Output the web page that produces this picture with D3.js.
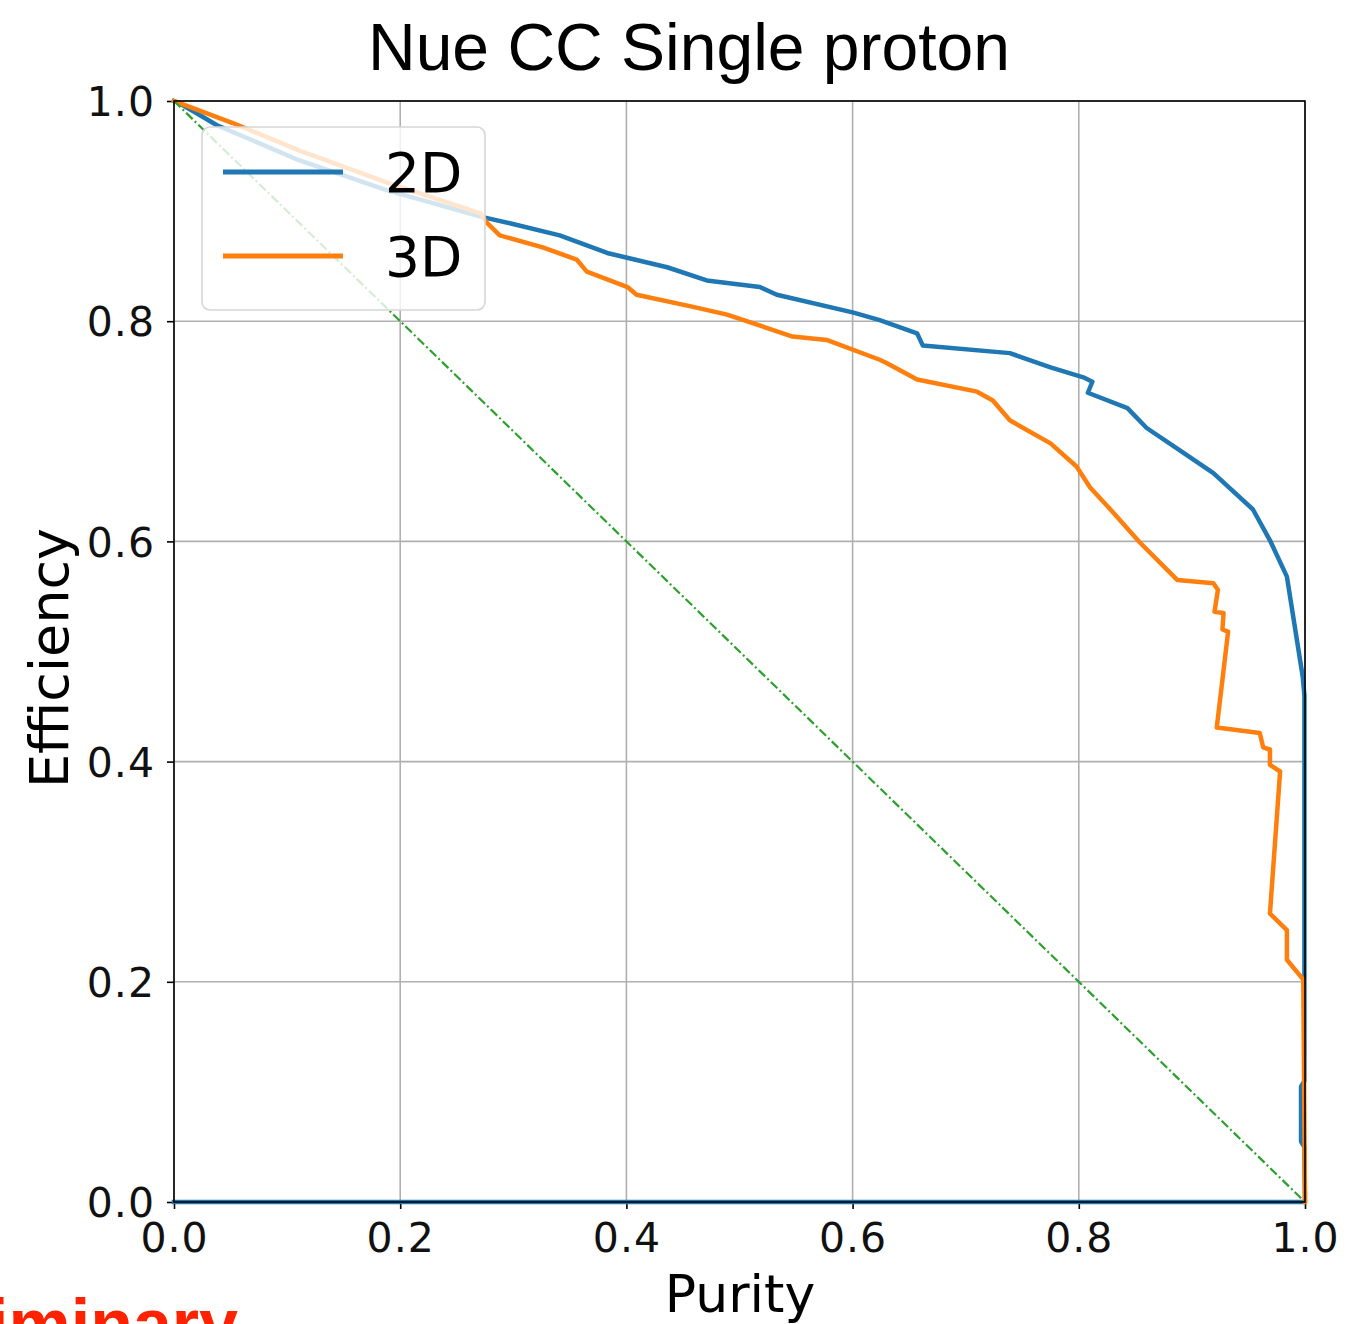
<!DOCTYPE html>
<html>
<head>
<meta charset="utf-8">
<script src="https://cdn.jsdelivr.net/npm/d3@7"></script>
<style>
  html, body { margin: 0; padding: 0; background: #fff; }
  svg { display: block; }
</style>
</head>
<body>
<svg id="chart" width="1347" height="1324"></svg>
<script>
// ---- data ----
const title = "Nue CC Single proton";
const xLabel = "Purity";
const yLabel = "Efficiency";
const seriesNames = ["2D", "3D"];
const seriesColors = ["#1f77b4", "#ff7f0e"];
const tickValues = [0.0, 0.2, 0.4, 0.6, 0.8, 1.0];
const tickLabels = ["0.0", "0.2", "0.4", "0.6", "0.8", "1.0"];

const purity2D = [0.000, 0.005, 0.038, 0.111, 0.188, 0.271, 0.297, 0.341, 0.383, 0.436, 0.471, 0.518, 0.533, 0.600, 0.624, 0.657, 0.662, 0.739, 0.775, 0.804, 0.812, 0.808, 0.843, 0.860, 0.889, 0.919, 0.954, 0.969, 0.984, 0.998, 0.9995, 0.9995, 0.9965, 0.9965, 0.9995, 1.000, 0.000];
const efficiency2D = [1.000, 0.998, 0.978, 0.946, 0.919, 0.895, 0.889, 0.878, 0.862, 0.849, 0.837, 0.831, 0.824, 0.808, 0.801, 0.789, 0.778, 0.771, 0.758, 0.749, 0.745, 0.735, 0.721, 0.703, 0.683, 0.662, 0.629, 0.601, 0.568, 0.477, 0.460, 0.110, 0.105, 0.055, 0.050, 0.000, 0.000];

const purity3D = [0.000, 0.005, 0.052, 0.111, 0.188, 0.271, 0.277, 0.288, 0.326, 0.356, 0.365, 0.401, 0.409, 0.459, 0.489, 0.547, 0.577, 0.624, 0.630, 0.657, 0.710, 0.724, 0.739, 0.775, 0.798, 0.810, 0.828, 0.854, 0.887, 0.919, 0.923, 0.920, 0.928, 0.927, 0.932, 0.922, 0.960, 0.963, 0.969, 0.969, 0.978, 0.969, 0.984, 0.984, 0.9985, 1.000];
const efficiency3D = [1.000, 0.998, 0.980, 0.955, 0.926, 0.898, 0.889, 0.878, 0.867, 0.856, 0.845, 0.831, 0.824, 0.813, 0.806, 0.786, 0.783, 0.765, 0.762, 0.747, 0.736, 0.728, 0.710, 0.689, 0.668, 0.649, 0.629, 0.599, 0.565, 0.562, 0.556, 0.536, 0.535, 0.520, 0.518, 0.431, 0.426, 0.413, 0.411, 0.397, 0.391, 0.262, 0.247, 0.220, 0.202, 0.000];

const diagPurity = [0.0, 1.0];
const diagEfficiency = [1.0, 0.0];

// ---- layout ----
const svg = d3.select("#chart");
const plotL = 174, plotR = 1305, plotT = 101, plotB = 1202;
const x = d3.scaleLinear().domain([0, 1]).range([plotL, plotR]);
const y = d3.scaleLinear().domain([0, 1]).range([plotB, plotT]);
const tickFont = "DejaVu Sans, sans-serif";

// grid
const grid = svg.append("g");
grid.selectAll("line.vx").data(tickValues).join("line").attr("class", "vx")
  .attr("x1", d => x(d)).attr("x2", d => x(d))
  .attr("y1", plotT).attr("y2", plotB)
  .attr("stroke", "#b0b0b0").attr("stroke-width", 1.6);
grid.selectAll("line.hy").data(tickValues).join("line").attr("class", "hy")
  .attr("y1", d => y(d)).attr("y2", d => y(d))
  .attr("x1", plotL).attr("x2", plotR)
  .attr("stroke", "#b0b0b0").attr("stroke-width", 1.6);

// axes
const xAxis = d3.axisBottom(x).tickValues(tickValues).tickFormat((d, i) => tickLabels[i]).tickSize(7).tickPadding(14);
const yAxis = d3.axisLeft(y).tickValues(tickValues).tickFormat((d, i) => tickLabels[i]).tickSize(7).tickPadding(12);
const gx = svg.append("g").attr("transform", `translate(0,${plotB})`).call(xAxis);
const gy = svg.append("g").attr("transform", `translate(${plotL},0)`).call(yAxis);
[gx, gy].forEach(g => {
  g.select(".domain").remove();
  g.selectAll(".tick line").attr("stroke", "#000").attr("stroke-width", 1.6);
  g.selectAll(".tick text").attr("fill", "#111").style("font-family", tickFont).style("font-size", "41px")
    .style("letter-spacing", "1px");
});
gx.selectAll(".tick text").attr("dy", "0.71em");
gy.selectAll(".tick text").attr("dy", "0.36em");

// lines
const line = d3.line().x(d => x(d[0])).y(d => y(d[1]));
const data2D = purity2D.map((p, i) => [p, efficiency2D[i]]);
const data3D = purity3D.map((p, i) => [p, efficiency3D[i]]);
const diag = diagPurity.map((p, i) => [p, diagEfficiency[i]]);

svg.append("path").datum(data2D).attr("d", line)
  .attr("fill", "none").attr("stroke", seriesColors[0]).attr("stroke-width", 4.5)
  .attr("stroke-linejoin", "round").attr("stroke-linecap", "square");
svg.append("path").datum(data3D).attr("d", line)
  .attr("fill", "none").attr("stroke", seriesColors[1]).attr("stroke-width", 4.5)
  .attr("stroke-linejoin", "round").attr("stroke-linecap", "square");
svg.append("path").datum(diag).attr("d", line)
  .attr("fill", "none").attr("stroke", "#2ca02c").attr("stroke-width", 2.2)
  .attr("stroke-dasharray", "9,3,2,3");

// frame
svg.append("rect").attr("x", plotL).attr("y", plotT)
  .attr("width", plotR - plotL).attr("height", plotB - plotT)
  .attr("fill", "none").attr("stroke", "#000").attr("stroke-width", 1.6);

// legend
const lg = svg.append("g");
lg.append("rect").attr("x", 202).attr("y", 127).attr("width", 283).attr("height", 183)
  .attr("rx", 8).attr("ry", 8)
  .attr("fill", "rgba(255,255,255,0.8)").attr("stroke", "#d6d6d6").attr("stroke-width", 1.6);
seriesNames.forEach((name, i) => {
  const cy = 172 + i * 84;
  lg.append("line").attr("x1", 223).attr("x2", 343).attr("y1", cy).attr("y2", cy)
    .attr("stroke", seriesColors[i]).attr("stroke-width", 5);
  lg.append("text").attr("x", 385).attr("y", cy).attr("dy", "0.36em")
    .style("font-family", tickFont).style("font-size", "55px").attr("fill", "#000")
    .text(name);
});

// title
svg.append("text").attr("x", 689).attr("y", 70).attr("text-anchor", "middle")
  .style("font-family", "Liberation Sans, Arial, sans-serif").style("font-size", "66px")
  .attr("fill", "#000").text(title);

// axis labels
svg.append("text").attr("x", 740).attr("y", 1312).attr("text-anchor", "middle")
  .style("font-family", tickFont).style("font-size", "52px").attr("fill", "#000").text(xLabel);
svg.append("text").attr("transform", "translate(68,658) rotate(-90)").attr("text-anchor", "middle")
  .style("font-family", tickFont).style("font-size", "54px").attr("fill", "#000").text(yLabel);

// cropped watermark
svg.append("text").attr("x", 238).attr("y", 1348).attr("text-anchor", "end")
  .style("font-family", "Liberation Sans, Arial, sans-serif").style("font-size", "70px").style("font-weight", "bold")
  .attr("fill", "#ff2200").text("Preliminary");
</script>
</body>
</html>
